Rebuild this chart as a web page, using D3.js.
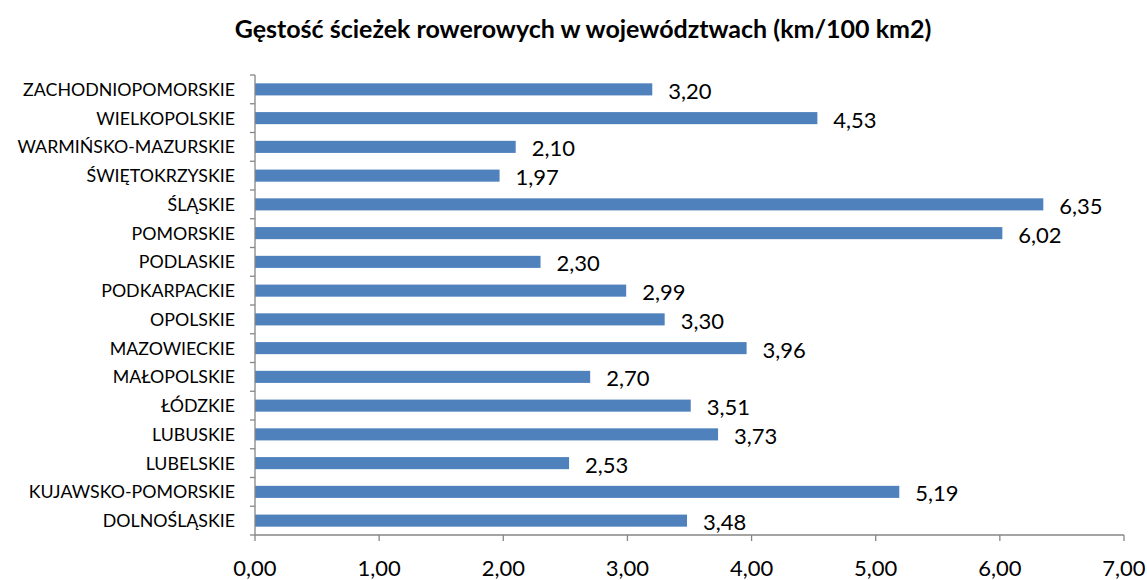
<!DOCTYPE html>
<html><head><meta charset="utf-8">
<script src="https://cdn.jsdelivr.net/npm/d3@7"></script>
<style>body{margin:0;background:#fff}svg{display:block}</style>
</head><body>
<svg id="c" width="1147" height="580"></svg>
<script>
const categories = ["ZACHODNIOPOMORSKIE","WIELKOPOLSKIE","WARMIŃSKO-MAZURSKIE","ŚWIĘTOKRZYSKIE","ŚLĄSKIE","POMORSKIE","PODLASKIE","PODKARPACKIE","OPOLSKIE","MAZOWIECKIE","MAŁOPOLSKIE","ŁÓDZKIE","LUBUSKIE","LUBELSKIE","KUJAWSKO-POMORSKIE","DOLNOŚLĄSKIE"];
const values = [3.20,4.53,2.10,1.97,6.35,6.02,2.30,2.99,3.30,3.96,2.70,3.51,3.73,2.53,5.19,3.48];
const xTicks = [0,1,2,3,4,5,6,7];
const title = "Gęstość ścieżek rowerowych w województwach (km/100 km2)";

const svg = d3.select("#c");
const font = "Lato, 'Open Sans', sans-serif";
const axisColor = "#868686";
const pLeft = 255, pRight = 1124, pTop = 75, pBottom = 535;

const x = d3.scaleLinear().domain([0,7]).range([pLeft,pRight]);
const y = d3.scaleBand().domain(categories).range([pTop,pBottom]).paddingInner(0.58).paddingOuter(0.29);
const step = y.step();

svg.append("text").attr("x",583).attr("y",38).attr("text-anchor","middle")
  .attr("font-family",font).attr("font-weight","bold").attr("font-size",25).attr("fill","#000").text(title);

// bars
svg.selectAll("rect.bar").data(categories).enter().append("rect")
  .attr("x",x(0)).attr("y",d=>y(d)).attr("width",(d,i)=>x(values[i])-x(0)).attr("height",y.bandwidth())
  .attr("fill","#4F81BD");

// y axis line and ticks
svg.append("line").attr("x1",pLeft).attr("x2",pLeft).attr("y1",pTop).attr("y2",pBottom).attr("stroke",axisColor).attr("stroke-width",1.3);
for(let i=0;i<=categories.length;i++){
  const yy = pTop + i*step;
  svg.append("line").attr("x1",pLeft-5).attr("x2",pLeft).attr("y1",yy).attr("y2",yy).attr("stroke",axisColor).attr("stroke-width",1.3);
}
svg.selectAll("text.cat").data(categories).enter().append("text")
  .attr("x",pLeft-20).attr("y",d=>y(d)+y.bandwidth()/2).attr("dy","0.36em").attr("text-anchor","end")
  .attr("font-family",font).attr("font-size",17.8).attr("fill","#000").text(d=>d);

// x axis
svg.append("line").attr("x1",pLeft).attr("x2",pRight).attr("y1",pBottom).attr("y2",pBottom).attr("stroke",axisColor).attr("stroke-width",1.3);
svg.selectAll("line.xt").data(xTicks).enter().append("line")
  .attr("x1",d=>x(d)).attr("x2",d=>x(d)).attr("y1",pBottom).attr("y2",pBottom+6).attr("stroke",axisColor).attr("stroke-width",1.3);
svg.selectAll("text.xl").data(xTicks).enter().append("text")
  .attr("x",d=>x(d)).attr("y",576).attr("text-anchor","middle")
  .attr("font-family",font).attr("font-size",22).attr("fill","#000").text(d=>d.toFixed(2).replace(".",","));

// data labels
svg.selectAll("text.val").data(categories).enter().append("text")
  .attr("x",(d,i)=>x(values[i])+16).attr("y",d=>y(d)+y.bandwidth()/2+9.5)
  .attr("font-family",font).attr("font-size",22).attr("fill","#000").text((d,i)=>values[i].toFixed(2).replace(".",","));
</script>
</body></html>
